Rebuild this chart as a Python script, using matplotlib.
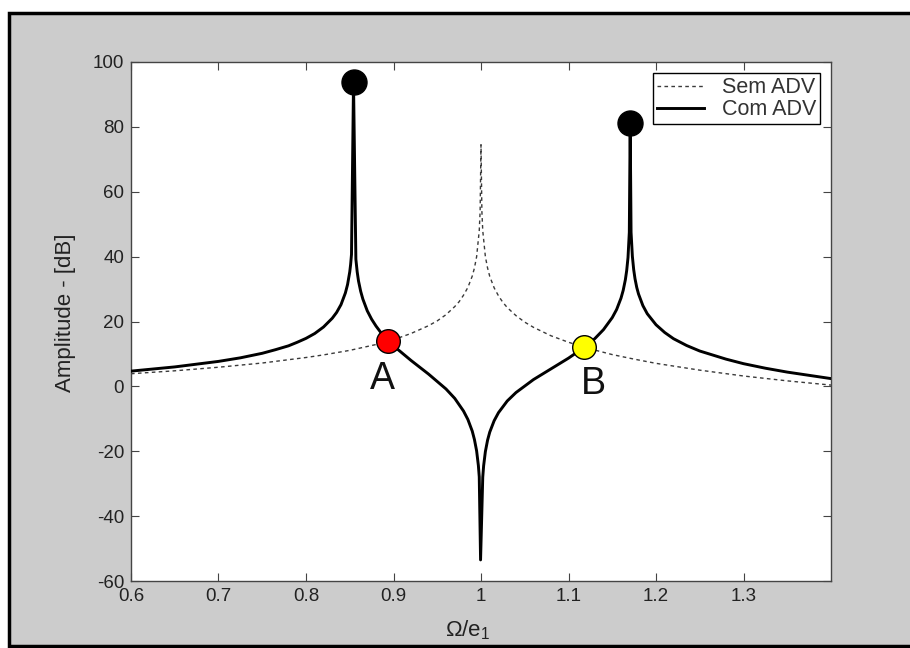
import matplotlib
matplotlib.use("Agg")
import matplotlib.pyplot as plt
from matplotlib.patches import Rectangle

plt.rcParams['font.family'] = ['Liberation Sans', 'DejaVu Sans']
plt.rcParams['mathtext.fontset'] = 'custom'
plt.rcParams['mathtext.rm'] = 'Liberation Sans'
plt.rcParams['mathtext.it'] = 'Liberation Sans'
plt.rcParams['axes.unicode_minus'] = False

# Frequency response of the primary system without absorber (Sem ADV)
sem_x = [0.60, 0.65, 0.70, 0.75, 0.80, 0.82, 0.85, 0.86, 0.88, 0.90, 0.92, 0.94,
         0.95, 0.96, 0.97, 0.975, 0.98, 0.985, 0.99, 0.9925, 0.995, 0.998,
         0.999, 1.000, 1.001, 1.002, 1.005, 1.0075, 1.01, 1.015, 1.02, 1.025,
         1.03, 1.04, 1.05, 1.06, 1.08, 1.10, 1.12, 1.13, 1.15, 1.175, 1.20,
         1.25, 1.30, 1.35, 1.40]
sem_db = [3.9, 4.8, 5.9, 7.2, 8.9, 9.7, 11.1, 11.7, 12.9, 14.4, 16.3, 18.7,
          20.2, 22.1, 24.6, 26.1, 28.1, 30.5, 34.0, 36.5, 40.0, 48.0,
          54.0, 74.5, 54.0, 48.0, 40.0, 36.5, 33.9, 30.4, 27.9, 25.9,
          24.3, 21.8, 19.8, 18.2, 15.6, 13.6, 11.9, 11.2, 9.8, 8.4, 7.1,
          5.0, 3.2, 1.7, 0.4]

# Frequency response of the primary system with the absorber (Com ADV)
com_x = [0.60, 0.65, 0.70, 0.725, 0.75, 0.765, 0.78, 0.79, 0.80, 0.81, 0.82,
         0.83, 0.835, 0.84, 0.845, 0.8475, 0.85, 0.851, 0.852, 0.8543, 0.857,
         0.8585, 0.86, 0.8625, 0.865, 0.87, 0.875, 0.88, 0.885, 0.89, 0.90,
         0.92, 0.94, 0.96, 0.97, 0.98, 0.985, 0.99, 0.9925, 0.995, 0.997,
         0.998, 0.9995, 1.002, 1.003, 1.005, 1.0075, 1.01, 1.015, 1.02, 1.03,
         1.04, 1.06, 1.08, 1.10, 1.12, 1.13, 1.14, 1.15, 1.155, 1.16, 1.1625,
         1.165, 1.1665, 1.168, 1.1695, 1.1705, 1.1715, 1.173, 1.1745, 1.176,
         1.178, 1.18, 1.185, 1.19, 1.20, 1.21, 1.22, 1.235, 1.25, 1.28, 1.30,
         1.325, 1.35, 1.40]
com_db = [4.7, 6.0, 7.7, 8.8, 10.2, 11.3, 12.5, 13.6, 14.8, 16.3, 18.3,
          21.0, 22.8, 25.2, 28.8, 31.4, 35.3, 37.6, 40.7, 93.7, 39.2,
          35.3, 32.5, 29.3, 26.9, 23.3, 20.7, 18.6, 16.8, 15.2, 12.5,
          8.0, 3.8, -0.8, -3.7, -7.6, -10.2, -13.8, -16.4, -19.9, -24.4,
          -27.9, -53.5, -28.0, -24.5, -20.1, -16.6, -14.1, -10.6, -8.1, -4.5,
          -1.9, 2.1, 5.4, 8.7, 12.4, 14.7, 17.5, 21.2, 23.7, 27.2, 29.6,
          32.9, 35.7, 39.7, 47.5, 81.3, 47.5, 40.1, 36.0, 33.2,
          30.5, 28.5, 24.9, 22.4, 19.0, 16.6, 14.7, 12.6, 10.9, 8.4, 7.0,
          5.6, 4.4, 2.4]

# Resonance peaks of the coupled system
peak_x = [0.8543, 1.1705]
peak_db = [93.7, 81.3]

# Crossing points of the two curves
cross_x = [0.894, 1.118]
cross_db = [14.0, 12.1]
cross_labels = ['A', 'B']
cross_colors = ['#ff0000', '#ffff00']
label_x = [0.887, 1.128]
label_db = [2.2, 0.6]

x_ticks = [0.6, 0.7, 0.8, 0.9, 1.0, 1.1, 1.2, 1.3]
x_ticklabels = ['0.6', '0.7', '0.8', '0.9', '1', '1.1', '1.2', '1.3']
y_ticks = [-60, -40, -20, 0, 20, 40, 60, 80, 100]

W, H = 910, 648
fig = plt.figure(figsize=(W / 100, H / 100), dpi=100, facecolor='white')

# grey panel with black frame
fig.patches.append(Rectangle((8.5 / W, 2.0 / H), 1.2, (646 - 13) / H,
                             transform=fig.transFigure, facecolor='#cccccc',
                             edgecolor='black', linewidth=2.5, zorder=-10))

ax = fig.add_axes([131 / W, 1 - 581 / H, 700 / W, 519 / H])
ax.set_facecolor('white')

ax.plot(sem_x, sem_db, color='#3a3a3a', linewidth=1.0, dashes=(2.6, 2.4),
        label='Sem ADV', zorder=2)
ax.plot(com_x, com_db, color='black', linewidth=2.1, label='Com ADV',
        solid_joinstyle='round', zorder=3)

ax.plot(peak_x, peak_db, linestyle='none', marker='o', markersize=18,
        markerfacecolor='black', markeredgecolor='black', zorder=5)
for xv, yv, col in zip(cross_x, cross_db, cross_colors):
    ax.plot([xv], [yv], linestyle='none', marker='o', markersize=17,
            markerfacecolor=col, markeredgecolor='black', markeredgewidth=1.0,
            zorder=5)
for xv, yv, lab in zip(label_x, label_db, cross_labels):
    ax.text(xv, yv, lab, fontsize=27, color='#111111', ha='center', va='center')

ax.set_xlim(0.6, 1.4)
ax.set_ylim(-60, 100)
ax.set_xticks(x_ticks)
ax.set_xticklabels(x_ticklabels)
ax.set_yticks(y_ticks)
ax.tick_params(direction='in', length=6, width=0.8, color='#444444',
               top=True, right=True, labelsize=13.5, labelcolor='#222222')
ax.tick_params(axis='x', pad=5)
ax.tick_params(axis='y', pad=5)
for sp in ax.spines.values():
    sp.set_color('#444444')
    sp.set_linewidth(1.0)

ax.set_xlabel(r'Ω/e$_1$', fontsize=16, color='#222222')
ax.set_ylabel('Amplitude - [dB]', fontsize=16, color='#222222')
ax.xaxis.set_label_coords(0.481, -0.072)
ax.yaxis.set_label_coords(-0.078, 0.516)

leg = ax.legend(loc='upper right', fancybox=False, framealpha=1.0,
                edgecolor='black', fontsize=15.5, handlelength=2.2,
                handletextpad=0.8, borderpad=0.2, labelspacing=0.05,
                borderaxespad=0.5)
leg.get_frame().set_linewidth(1.0)
for t in leg.get_texts():
    t.set_color('#333333')

fig.savefig('out.png', dpi=100, facecolor=fig.get_facecolor())
